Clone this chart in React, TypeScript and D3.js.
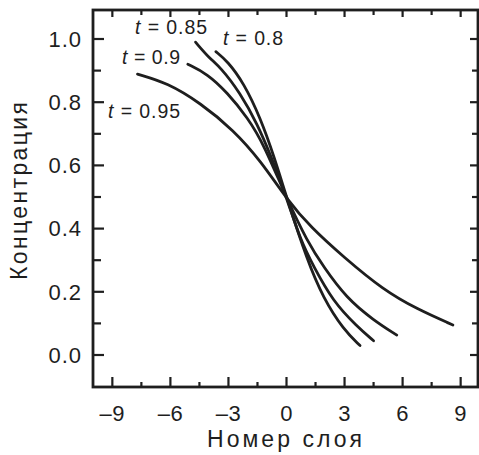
import React from "react";
import * as d3 from "d3";

const xTicks = [-9, -6, -3, 0, 3, 6, 9];
const yTicks = [0.0, 0.2, 0.4, 0.6, 0.8, 1.0];

const x95 = [-7.7, -6.15, -4.44, -2.74, -1.34, 0.05, 1.24, 2.95, 5.0, 6.75, 8.6];
const y95 = [0.889, 0.861, 0.797, 0.712, 0.615, 0.49, 0.405, 0.31, 0.206, 0.145, 0.095];

const x90 = [-5.1, -4.1, -3.05, -2.0, -1.2, 0.05, 1.07, 1.9, 3.1, 4.5, 5.7];
const y90 = [0.92, 0.89, 0.83, 0.75, 0.67, 0.49, 0.36, 0.28, 0.18, 0.11, 0.063];

const x85 = [-4.7, -4.0, -3.4, -2.4, -1.5, -0.8, 0.05, 0.72, 1.4, 2.4, 3.65, 4.5];
const y85 = [0.99, 0.94, 0.91, 0.83, 0.73, 0.63, 0.49, 0.364, 0.28, 0.17, 0.09, 0.045];

const x80 = [-3.65, -3.05, -2.2, -1.35, -0.65, 0.05, 1.07, 1.9, 2.95, 3.8];
const y80 = [0.96, 0.93, 0.86, 0.75, 0.63, 0.49, 0.30, 0.18, 0.08, 0.03];

const seriesNames = ["0.95", "0.9", "0.85", "0.8"];

export default function App() {
  const W = 479, H = 455;
  const left = 93, right = 478, top = 10, bottom = 387;
  const x = d3.scaleLinear().domain([-10, 10]).range([left, left + 20 * 19.35]);
  const y = d3.scaleLinear().domain([0, 1]).range([355, 39]);

  const line = d3.line<[number, number]>().x(d => x(d[0])).y(d => y(d[1])).curve(d3.curveBasis);
  const series = [
    { xs: x95, ys: y95 },
    { xs: x90, ys: y90 },
    { xs: x85, ys: y85 },
    { xs: x80, ys: y80 },
  ];
  const xMinor = d3.range(-9, 10, 1.5);
  const yMinor = d3.range(0, 1.05, 0.1);
  const labels = [
    { name: seriesNames[2], lx: 135, ly: 34, w: 72 },
    { name: seriesNames[3], lx: 223, ly: 45, w: 60 },
    { name: seriesNames[1], lx: 122, ly: 64, w: 58 },
    { name: seriesNames[0], lx: 108, ly: 118, w: 72 },
  ];
  const font = "Liberation Sans, Arial, sans-serif";
  const ink = "#1e1e1e";
  return (
    <svg width={W} height={H} style={{ position: "absolute", left: 0, top: 0, background: "#fff" }}>
      <rect x={left} y={top} width={right - left} height={bottom - top} fill="none" stroke={ink} strokeWidth={2.8} />
      {xMinor.map((v, i) => {
        const major = Math.abs(v % 3) < 1e-6;
        return (
          <g key={"xt" + i}>
            <line x1={x(v)} x2={x(v)} y1={bottom} y2={bottom - (major ? 10 : 5)} stroke={ink} strokeWidth={2.2} />
            <line x1={x(v)} x2={x(v)} y1={top} y2={top + (major ? 7 : 5)} stroke={ink} strokeWidth={2.2} />
          </g>
        );
      })}
      {yMinor.map((v, i) => {
        const major = Math.round(v * 10) % 2 === 0;
        return (
          <g key={"yt" + i}>
            <line x1={left} x2={left + (major ? 11 : 8)} y1={y(v)} y2={y(v)} stroke={ink} strokeWidth={2.2} />
            <line x1={right} x2={right - (major ? 8 : 6)} y1={y(v)} y2={y(v)} stroke={ink} strokeWidth={2.2} />
          </g>
        );
      })}
      {xTicks.map(v => (
        <text key={"xl" + v} x={x(v)} y={421} textAnchor="middle" fontFamily={font} fontSize={22} letterSpacing={0.5} fill={ink}>
          {v < 0 ? "\u2013" + Math.abs(v) : v}
        </text>
      ))}
      {yTicks.map(v => (
        <text key={"yl" + v} x={82} y={y(v) + 7.8} textAnchor="end" fontFamily={font} fontSize={22} letterSpacing={1} fill={ink}>
          {v.toFixed(1)}
        </text>
      ))}
      <text x={207} y={447} fontFamily={font} fontSize={23} textLength={155} lengthAdjust="spacing" fill={ink}>Номер слоя</text>
      <text transform={`translate(27,280) rotate(-90)`} fontFamily={font} fontSize={23} textLength={178} lengthAdjust="spacing" fill={ink}>Концентрация</text>
      {series.map((s, i) => (
        <path key={"s" + i} d={line(s.xs.map((v, j) => [v, s.ys[j]] as [number, number])) || ""} fill="none" stroke={ink} strokeWidth={2.8} strokeLinecap="round" />
      ))}
      {labels.map(l => (
        <text key={"lb" + l.name} x={l.lx} y={l.ly} fontFamily={font} fontSize={19.5} textLength={l.w} lengthAdjust="spacing" fill={ink}>
          <tspan fontStyle="italic">t</tspan>
          {" = " + l.name}
        </text>
      ))}
    </svg>
  );
}
